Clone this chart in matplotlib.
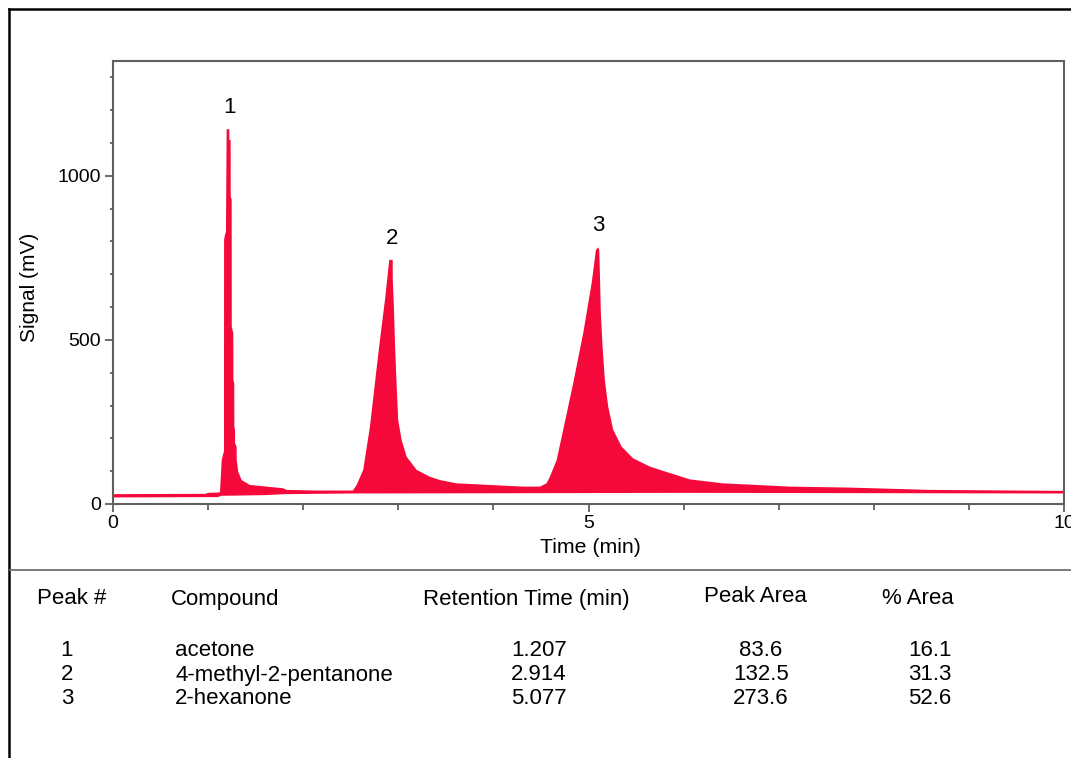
import numpy as np
import matplotlib
matplotlib.use("Agg")
import matplotlib.pyplot as plt
from matplotlib.lines import Line2D

plt.rcParams['font.family'] = ['Liberation Sans', 'DejaVu Sans']

# chromatogram trace (upper edge)
time = [0.00, 0.97, 1.00, 1.10, 1.125, 1.143, 1.160, 1.167, 1.168, 1.177, 1.188,
        1.195, 1.223, 1.224, 1.237, 1.238, 1.248, 1.249, 1.265, 1.266, 1.275,
        1.276, 1.283, 1.284, 1.300, 1.301, 1.317, 1.353, 1.440, 1.616, 1.790,
        1.826, 2.141, 2.492,
        2.523, 2.562, 2.631, 2.702, 2.754, 2.807, 2.860, 2.905, 2.941, 2.942,
        2.954, 2.965, 2.983, 2.999, 3.035, 3.088, 3.193, 3.333, 3.438, 3.613,
        3.963, 4.310, 4.489,
        4.559, 4.594, 4.665, 4.734, 4.839, 4.944, 5.033, 5.078, 5.102, 5.113,
        5.120, 5.130, 5.148, 5.172, 5.207, 5.260, 5.348, 5.470, 5.646, 5.751,
        6.066, 6.413, 6.767, 7.117, 7.748, 8.589, 10.00]
signal = [30, 31, 34, 35, 36, 134, 154, 160, 805, 820, 830,
          1142, 1142, 1109, 1109, 937, 927, 540, 520, 378, 368,
          236, 226, 185, 175, 134, 98, 73, 58, 53, 48,
          43, 41, 41,
          41, 58, 104, 236, 368, 500, 622, 744, 744, 683,
          601, 490, 358, 256, 195, 144, 104, 83, 73, 63,
          58, 53, 53,
          63, 83, 134, 226, 368, 520, 673, 774, 782, 774,
          703, 581, 479, 378, 297, 226, 175, 139, 114, 104,
          75, 63, 58, 53, 50, 43, 40]

# lower edge of the filled band
base_time = [0.0, 1.10, 1.14, 1.60, 1.80, 2.50, 4.50, 6.00, 8.00, 10.0]
base_level = [20, 21, 25, 27, 30, 32, 33, 34, 33, 32]

peak_no = ['1', '2', '3']
compounds = ['acetone', '4-methyl-2-pentanone', '2-hexanone']
ret_times = [1.207, 2.914, 5.077]
peak_tops = [1142, 744, 782]
peak_area = ['83.6', '132.5', '273.6']
pct_area = ['16.1', '31.3', '52.6']

W, H = 1071, 758
fig = plt.figure(figsize=(W / 100, H / 100), dpi=100)
ax = fig.add_axes([113 / W, 1 - 504 / H, (1064 - 113) / W, (504 - 61) / H])

red = '#F5083A'
ax.fill(np.r_[time, base_time[::-1]], np.r_[signal, base_level[::-1]],
        color=red, lw=0)

for n, rt, top in zip(peak_no, ret_times, peak_tops):
    ax.annotate(n, (rt, top), xytext=(1.5, 15.5), textcoords='offset points',
                ha='center', va='center', fontsize=16)

ax.set_xlim(0, 10)
ax.set_ylim(0, 1350)
ax.set_xticks([0, 5, 10])
ax.set_xticks(np.arange(1, 10), minor=True)
ax.set_yticks([0, 500, 1000])
ax.set_yticks(np.arange(100, 1400, 100), minor=True)

grey = '#5f5f5f'
for s in ax.spines.values():
    s.set_color(grey)
    s.set_linewidth(1.5)
ax.tick_params(which='both', direction='out', color=grey, labelsize=14)
ax.tick_params(axis='x', which='major', length=6, width=1.3, pad=2)
ax.tick_params(axis='x', which='minor', length=4, width=1.3)
ax.tick_params(axis='y', which='major', length=5.5, width=1.3, pad=3)
ax.tick_params(axis='y', which='minor', length=2.5, width=1.3)

ax.set_xlabel('Time (min)', fontsize=15.3, va='center')
ax.xaxis.set_label_coords(0.5016, -0.0993)
ax.set_ylabel('Signal (mV)', fontsize=15, va='center')
ax.yaxis.set_label_coords(-0.0873, 0.49)

# frame and separator
fig.add_artist(Line2D([9 / W, 9 / W], [0, 1 - 9 / H], transform=fig.transFigure,
                      color='black', lw=1.8))
fig.add_artist(Line2D([9 / W, 1], [1 - 9 / H, 1 - 9 / H], transform=fig.transFigure,
                      color='black', lw=1.8))
fig.add_artist(Line2D([10 / W, 1], [1 - 570 / H, 1 - 570 / H], transform=fig.transFigure,
                      color='#707070', lw=1.3))

# peak table
def px(x, y, s, ha='left'):
    fig.text(x / W, 1 - y / H, s, ha=ha, va='center', fontsize=16)

px(37, 599, 'Peak #')
px(171, 600, 'Compound')
px(423, 599, 'Retention Time (min)')
px(704, 597, 'Peak Area')
px(882, 599, '% Area')

row_y = [651, 675, 699]
for i, y in enumerate(row_y):
    px(67, y, peak_no[i], ha='center')
    px(175, y, compounds[i])
    px(539, y, f'{ret_times[i]:.3f}', ha='center')
    px(761, y, peak_area[i], ha='center')
    px(930, y, pct_area[i], ha='center')

fig.savefig('out.png', dpi=100)
